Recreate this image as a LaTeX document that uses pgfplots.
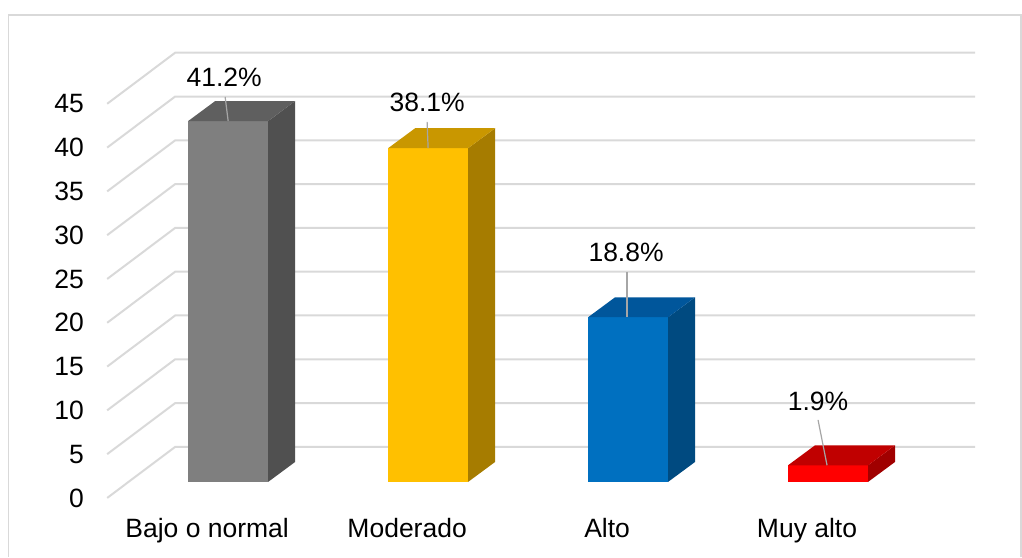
\documentclass[border=0pt]{standalone}
\usepackage{pgfplots}
\pgfplotsset{compat=1.18}
\usepackage{fontspec}
\setmainfont{Liberation Sans}
\definecolor{gridc}{HTML}{D9D9D9}
\definecolor{leader}{HTML}{A6A6A6}
\definecolor{grayF}{HTML}{7F7F7F}
\definecolor{grayT}{HTML}{5F5F5F}
\definecolor{grayS}{HTML}{505050}
\definecolor{goldF}{HTML}{FFC000}
\definecolor{goldT}{HTML}{C99700}
\definecolor{goldS}{HTML}{A67C00}
\definecolor{blueF}{HTML}{0070C0}
\definecolor{blueT}{HTML}{00569B}
\definecolor{blueS}{HTML}{004A80}
\definecolor{redF}{HTML}{FF0000}
\definecolor{redT}{HTML}{C00000}
\definecolor{redS}{HTML}{A00000}
% one 3D bar: #1 = x of front-face centre, #2 = value, #3 front, #4 top, #5 side
\newcommand{\threedbar}[5]{%
  \addplot[ybar, bar width=80, bar shift=0pt, fill=#3, draw=none] coordinates {(#1,#2)};
  \fill[#5] (axis cs:{#1+40},0) -- (axis cs:{#1+67},2.28) -- (axis cs:{#1+67},{#2+2.28}) -- (axis cs:{#1+40},#2) -- cycle;
  \fill[#4] (axis cs:{#1-40},#2) -- (axis cs:{#1+40},#2) -- (axis cs:{#1+67},{#2+2.28}) -- (axis cs:{#1-13},{#2+2.28}) -- cycle;
}
\begin{document}
\fontsize{13.25}{16}\selectfont
\begin{tikzpicture}
\begin{axis}[
  width=511pt, height=278.5pt, scale only axis,
  xmin=0, xmax=1022, ymin=-8.56, ymax=55.02,
  axis x line=none, axis y line=left,
  y axis line style={draw=none},
  major tick length=0pt,
  ytick={-1.83,3.17,8.17,13.17,18.17,23.17,28.17,33.17,38.17,43.17},
  yticklabels={0,5,10,15,20,25,30,35,40,45},
  yticklabel style={anchor=east, inner sep=0pt, xshift=42pt,
    font=\fontsize{13.25}{16}\selectfont},
  /pgf/number format/assume math mode=true,
  clip=false,
]
% invisible frame for the bounding box
\path (axis cs:0,-8.56) rectangle (axis cs:1022,55.02);
% chart border
\draw[gridc, line width=0.6pt] (axis cs:8,-8.56) -- (axis cs:8,53.31) -- (axis cs:1021,53.31) -- (axis cs:1021,-8.56);
% gridlines: left wall diagonals and back wall
\pgfplotsinvokeforeach{0,5,10,15,20,25,30,35,40,45}{
  \draw[gridc, line width=1pt] (axis cs:107,{#1-1.83}) -- (axis cs:175,{#1+4.0}) -- (axis cs:975,{#1+4.0});
}
% bars
\threedbar{228}{41.2}{grayF}{grayT}{grayS}
\threedbar{428}{38.1}{goldF}{goldT}{goldS}
\threedbar{628}{18.8}{blueF}{blueT}{blueS}
\threedbar{828}{1.9}{redF}{redT}{redS}
% leader lines
\draw[leader, line width=0.6pt] (axis cs:225,43.95) -- (axis cs:228,41.2);
\draw[leader, line width=0.6pt] (axis cs:427,41.10) -- (axis cs:428,38.1);
\draw[leader, line width=0.6pt] (axis cs:627,23.97) -- (axis cs:627,18.8);
\draw[leader, line width=0.6pt] (axis cs:818,7.08) -- (axis cs:827,1.9);
% data labels
\node[anchor=base, inner sep=0pt] at (axis cs:224,45.09) {41.2\%};
\node[anchor=base, inner sep=0pt] at (axis cs:427,42.24) {38.1\%};
\node[anchor=base, inner sep=0pt] at (axis cs:626,25.11) {18.8\%};
\node[anchor=base, inner sep=0pt] at (axis cs:818,8.11) {1.9\%};
% category labels
\node[anchor=base, inner sep=0pt] at (axis cs:207,-6.39) {Bajo o normal};
\node[anchor=base, inner sep=0pt] at (axis cs:407,-6.39) {Moderado};
\node[anchor=base, inner sep=0pt] at (axis cs:607,-6.39) {Alto};
\node[anchor=base, inner sep=0pt] at (axis cs:807,-6.39) {Muy alto};
\end{axis}
\end{tikzpicture}
\end{document}
